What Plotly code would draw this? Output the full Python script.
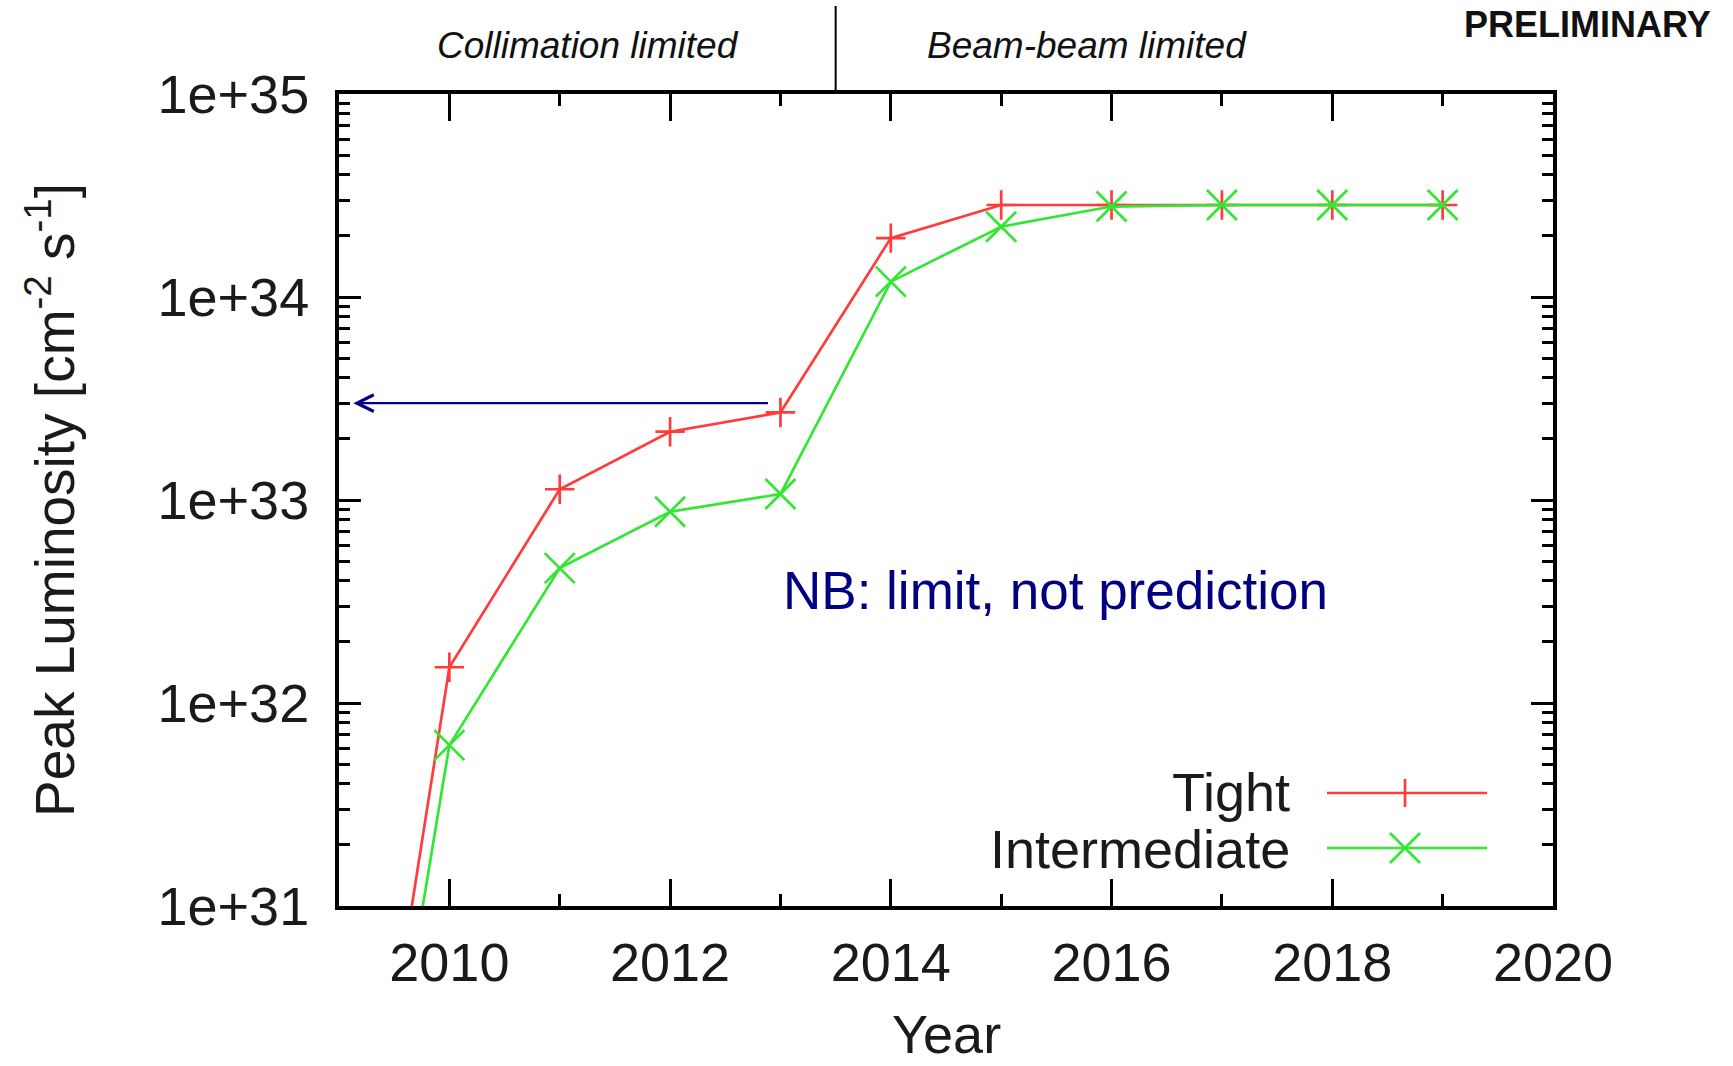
import plotly.graph_objects as go

# ---- data ----
years = [2009.5, 2010, 2011, 2012, 2013, 2014, 2015, 2016, 2017, 2018, 2019]
tight = [2.8e30, 1.50e32, 1.13e33, 2.17e33, 2.70e33, 1.95e34, 2.84e34, 2.84e34, 2.84e34, 2.84e34, 2.84e34]
intermediate = [1.4e30, 6.2e31, 4.62e32, 8.75e32, 1.07e33, 1.19e34, 2.22e34, 2.79e34, 2.84e34, 2.84e34, 2.84e34]

x_tickvals = [2010, 2012, 2014, 2016, 2018, 2020]
x_ticktext = ["2010", "2012", "2014", "2016", "2018", "2020"]
y_tickvals = [1e31, 1e32, 1e33, 1e34, 1e35]
y_ticktext = ["1e+31", "1e+32", "1e+33", "1e+34", "1e+35"]

regime_boundary = 2013.5
limit_level_log = 33.4771  # log10(3e33)
arrow_start_year = 2012.9
arrow_end_year = 2009.13
note_text = "NB: limit, not prediction"

RED = "rgb(255,60,60)"
GREEN = "rgb(50,230,50)"
NAVY = "#000080"
FONT = "Liberation Sans, Arial, Helvetica, sans-serif"

W, H = 1733, 1066
L, R, T, B = 339, 180, 94, 160

fig = go.Figure()
fig.add_trace(go.Scatter(
    x=years, y=tight, mode="lines+markers", name="Tight",
    line=dict(color=RED, width=2.7),
    marker=dict(symbol="cross-thin", size=21, line=dict(color=RED, width=2.7)),
    showlegend=False))
fig.add_trace(go.Scatter(
    x=years, y=intermediate, mode="lines+markers", name="Intermediate",
    line=dict(color=GREEN, width=2.7),
    marker=dict(symbol="x-thin", size=30, line=dict(color=GREEN, width=2.7)),
    showlegend=False))

axis_common = dict(showline=True, linecolor="black", linewidth=4, mirror="ticks",
                   ticks="inside", tickcolor="black", tickwidth=3,
                   showgrid=False, zeroline=False,
                   tickfont=dict(family=FONT, size=54, color="#1a1a1a"))

fig.update_xaxes(range=[2009, 2020], tickmode="array", tickvals=x_tickvals, ticktext=x_ticktext,
                 ticklen=27, ticklabelstandoff=6,
                 minor=dict(tickmode="linear", tick0=2009, dtick=1, ticks="inside", ticklen=12,
                            tickwidth=3, tickcolor="black"),
                 **axis_common)
fig.update_yaxes(type="log", range=[31, 35], tickmode="array", tickvals=y_tickvals, ticktext=y_ticktext,
                 ticklen=22, ticklabelstandoff=15,
                 minor=dict(tickmode="linear", dtick="D1", ticks="inside", ticklen=11,
                            tickwidth=3, tickcolor="black"),
                 title=dict(text="Peak Luminosity [cm<sup>-2</sup> s<sup>-1</sup>]",
                            font=dict(family=FONT, size=55, color="#1a1a1a"), standoff=66),
                 **axis_common)

pw, ph = W - L - R, H - T - B
def px(xp):
    return (xp - L) / pw
def py(yp):
    return (H - B - yp) / ph

annotations = [
    dict(text="Year", x=0.5, y=py(H), xref="paper", yref="paper", showarrow=False,
         font=dict(family=FONT, size=54, color="#1a1a1a"), xanchor="center", yanchor="bottom"),
    dict(text="<i>Collimation limited</i>", x=px(588), y=py(45), xref="paper", yref="paper",
         showarrow=False, font=dict(family=FONT, size=37, color="#111"), xanchor="center", yanchor="middle"),
    dict(text="<i>Beam-beam limited</i>", x=px(1087), y=py(45), xref="paper", yref="paper",
         showarrow=False, font=dict(family=FONT, size=37, color="#111"), xanchor="center", yanchor="middle"),
    dict(text="<b>PRELIMINARY</b>", x=px(1587), y=py(25), xref="paper", yref="paper",
         showarrow=False, font=dict(family=FONT, size=36, color="#111"), xanchor="center", yanchor="middle"),
    dict(text=note_text, x=2015.49, y=32.552, xref="x", yref="y", showarrow=False,
         font=dict(family=FONT, size=53, color=NAVY), xanchor="center", yanchor="middle"),
    dict(text="", x=arrow_end_year, y=limit_level_log, ax=arrow_start_year, ay=limit_level_log,
         xref="x", yref="y", axref="x", ayref="y", showarrow=True,
         arrowhead=5, arrowsize=1.5, arrowwidth=2.2, arrowcolor=NAVY, standoff=0, startstandoff=0),
    dict(text="Tight", x=px(1292), y=py(792), xref="paper", yref="paper", showarrow=False,
         font=dict(family=FONT, size=54, color="#1a1a1a"), xanchor="right", yanchor="middle"),
    dict(text="Intermediate", x=px(1292), y=py(849), xref="paper", yref="paper", showarrow=False,
         font=dict(family=FONT, size=54, color="#1a1a1a"), xanchor="right", yanchor="middle"),
]

shapes = [
    dict(type="line", xref="x", yref="paper", x0=regime_boundary, x1=regime_boundary, y0=1.0, y1=py(6),
         line=dict(color="black", width=2)),
    # legend samples
    dict(type="line", xref="paper", yref="paper", x0=px(1327), x1=px(1487), y0=py(793), y1=py(793),
         line=dict(color=RED, width=2.7)),
    dict(type="line", xref="paper", yref="paper", xsizemode="pixel", ysizemode="pixel",
         xanchor=px(1405), yanchor=py(793), x0=0, x1=0, y0=-14, y1=14, line=dict(color=RED, width=2.7)),
    dict(type="line", xref="paper", yref="paper", x0=px(1327), x1=px(1487), y0=py(848), y1=py(848),
         line=dict(color=GREEN, width=2.7)),
    dict(type="line", xref="paper", yref="paper", xsizemode="pixel", ysizemode="pixel",
         xanchor=px(1405), yanchor=py(848), x0=-15, x1=15, y0=-15, y1=15, line=dict(color=GREEN, width=2.7)),
    dict(type="line", xref="paper", yref="paper", xsizemode="pixel", ysizemode="pixel",
         xanchor=px(1405), yanchor=py(848), x0=-15, x1=15, y0=15, y1=-15, line=dict(color=GREEN, width=2.7)),
]

fig.update_layout(width=W, height=H, margin=dict(l=L, r=R, t=T, b=B, autoexpand=False),
                  paper_bgcolor="white", plot_bgcolor="white",
                  font=dict(family=FONT), annotations=annotations, shapes=shapes,
                  showlegend=False)

fig.write_html("out.html")
